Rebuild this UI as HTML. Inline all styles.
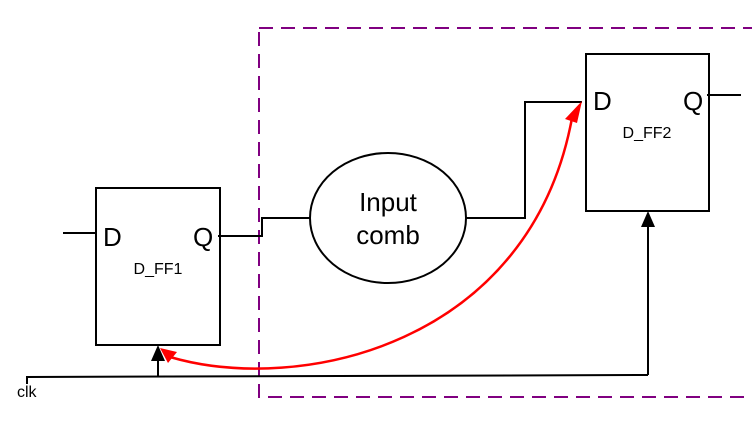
<!DOCTYPE html>
<html><head><meta charset="utf-8"><style>
html,body{margin:0;padding:0;background:#fff;}
svg{display:block;}
text{font-family:"Liberation Sans",sans-serif;fill:#000;}
</style></head><body>
<svg width="752" height="429" viewBox="0 0 752 429" xmlns="http://www.w3.org/2000/svg">
<rect x="259" y="28" width="520" height="369" fill="none" stroke="#800080" stroke-width="2" stroke-dasharray="14,8"/>
<rect x="96" y="188" width="124" height="157" fill="#fff" stroke="#000" stroke-width="2"/>
<rect x="586" y="54" width="123" height="157" fill="#fff" stroke="#000" stroke-width="2"/>
<ellipse cx="388" cy="218" rx="78" ry="65" fill="#fff" stroke="#000" stroke-width="2"/>
<g stroke="#000" stroke-width="2" fill="none">
<line x1="63" y1="233" x2="96" y2="233"/>
<polyline points="218,236 262,236 262,218 310,218"/>
<polyline points="466,218 525,218 525,102 582,102"/>
<line x1="707" y1="95" x2="741" y2="95"/>
<polyline points="27,384 27,377 648,375"/>
<line x1="158" y1="377" x2="158" y2="358"/>
<line x1="648" y1="375" x2="648" y2="225"/>
</g>
<path d="M158,345 L151,361 L165,361 z" fill="#000"/>
<path d="M648,211 L641,227 L655,227 z" fill="#000"/>
<path d="M170,357 C300,395 530,345 572,118" fill="none" stroke="#f00" stroke-width="2.5"/>
<path d="M582,101 L565,119 L577,123 z" fill="#f00"/>
<path d="M160,348 L177,352 L168,363 z" fill="#f00"/>
<text x="103" y="246" font-size="26">D</text>
<text x="193" y="246" font-size="26">Q</text>
<text x="158" y="274" font-size="16" text-anchor="middle">D_FF1</text>
<text x="593" y="110" font-size="26">D</text>
<text x="683" y="110" font-size="26">Q</text>
<text x="647" y="138" font-size="16" text-anchor="middle">D_FF2</text>
<text x="388" y="211" font-size="26" text-anchor="middle">Input</text>
<text x="388" y="244" font-size="26" text-anchor="middle">comb</text>
<text x="17" y="397" font-size="16">clk</text>
</svg>
</body></html>
